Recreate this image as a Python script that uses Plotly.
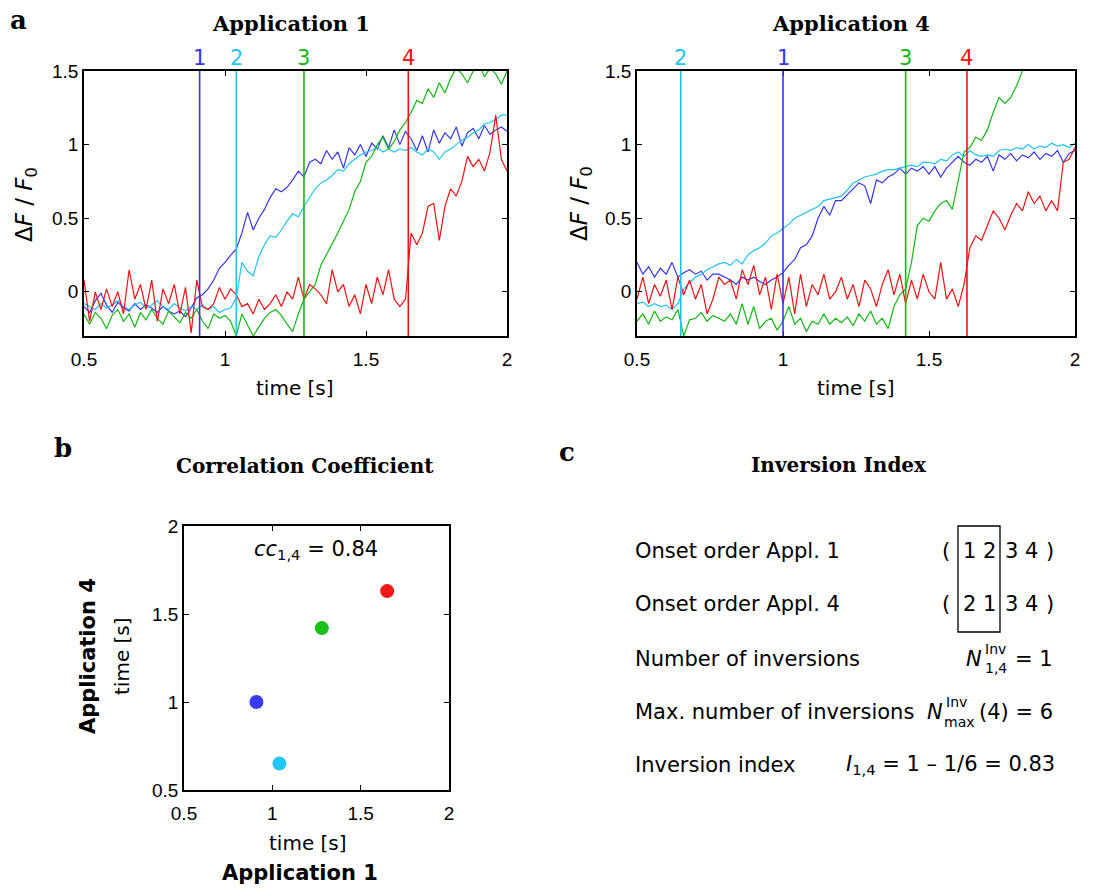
import numpy as np
import plotly.graph_objects as go

W, H = 1101, 889

# ---------------- data ----------------
time = np.round(0.5 + 0.02 * np.arange(76), 2)  # sampling grid 0.50 ... 2.00 s

neurons = ["1", "2", "3", "4"]
colors = ["#3535ee", "#1ec4f6", "#12b812", "#ee1212"]
dot_colors = ["#3a3af2", "#22c6f6", "#18c018", "#f01818"]

onset_app1 = [0.91, 1.04, 1.28, 1.65]
onset_app4 = [1.00, 0.65, 1.42, 1.63]

app1_n1 = [-0.10, -0.14, -0.06, -0.01, -0.09, -0.14, -0.07, -0.11, -0.13, -0.08,
           -0.12, -0.09, -0.11, -0.14, -0.10, -0.13, -0.15, -0.13, -0.17, -0.11,
           -0.04, -0.02, 0.02, 0.08, 0.16, 0.20, 0.25, 0.29, 0.40, 0.54,
           0.42, 0.50, 0.56, 0.64, 0.70, 0.68, 0.71, 0.76, 0.82, 0.78,
           0.88, 0.90, 0.87, 0.96, 0.90, 0.95, 0.84, 0.98, 0.93, 1.00,
           0.92, 1.01, 0.97, 1.06, 0.98, 1.10, 1.00, 1.09, 1.04, 0.96,
           1.06, 0.95, 1.10, 1.01, 1.08, 1.04, 1.12, 0.99, 1.08, 1.11,
           1.04, 1.13, 1.07, 1.10, 1.12, 1.09]
app1_n2 = [-0.08, -0.10, -0.12, -0.08, -0.11, -0.09, -0.06, -0.10, -0.12, -0.09,
           -0.07, -0.11, -0.09, -0.06, -0.10, -0.12, -0.08, -0.11, -0.13, -0.10,
           -0.12, -0.09, -0.12, -0.10, -0.14, -0.12, -0.11, -0.04, 0.20, 0.14,
           0.11, 0.24, 0.32, 0.38, 0.37, 0.42, 0.48, 0.53, 0.51, 0.58,
           0.64, 0.70, 0.74, 0.76, 0.79, 0.83, 0.82, 0.87, 0.90, 0.93,
           0.95, 0.96, 0.98, 0.95, 0.97, 0.95, 0.97, 0.96, 0.98, 0.95,
           0.93, 0.97, 0.95, 0.90, 0.95, 0.97, 1.00, 1.03, 1.05, 1.08,
           1.10, 1.14, 1.15, 1.17, 1.20, 1.20]
app1_n3 = [-0.15, -0.22, -0.14, -0.18, -0.25, -0.16, -0.12, -0.20, -0.15, -0.24,
           -0.14, -0.19, -0.12, -0.18, -0.22, -0.13, -0.17, -0.21, -0.14, -0.18,
           -0.12, -0.20, -0.25, -0.15, -0.18, -0.16, -0.20, -0.30, -0.15, -0.22,
           -0.30, -0.24, -0.18, -0.14, -0.12, -0.16, -0.22, -0.27, -0.15, -0.05,
           0.00, 0.05, 0.18, 0.25, 0.32, 0.40, 0.48, 0.56, 0.68, 0.75,
           0.88, 0.92, 1.00, 1.05, 0.97, 1.02, 1.10, 1.15, 1.22, 1.30,
           1.28, 1.38, 1.32, 1.42, 1.35, 1.45, 1.52, 1.48, 1.42, 1.50,
           1.55, 1.46, 1.52, 1.48, 1.41, 1.50]
app1_n4 = [0.08, -0.20, 0.00, -0.12, 0.02, -0.10, 0.00, -0.15, 0.15, -0.05,
           0.05, -0.12, 0.08, -0.20, 0.02, -0.08, 0.05, -0.15, 0.03, -0.28,
           0.08, -0.10, -0.12, -0.08, 0.03, -0.05, 0.02, -0.02, -0.10, -0.08,
           -0.15, -0.05, -0.12, -0.08, -0.02, -0.10, 0.00, -0.05, 0.10, -0.05,
           0.05, 0.02, -0.02, -0.08, 0.15, 0.00, 0.05, -0.10, -0.02, -0.15,
           0.05, -0.08, 0.10, -0.02, 0.15, -0.05, -0.10, -0.05, 0.40, 0.32,
           0.40, 0.58, 0.60, 0.35, 0.58, 0.70, 0.65, 0.75, 0.92, 0.85,
           0.90, 0.82, 0.95, 1.20, 0.90, 0.82]

app4_n1 = [0.20, 0.12, 0.17, 0.10, 0.16, 0.12, 0.20, 0.10, 0.13, 0.15,
           0.12, 0.14, 0.08, 0.12, 0.12, 0.10, 0.08, 0.05, 0.10, 0.08,
           0.10, 0.07, 0.05, 0.08, 0.10, 0.13, 0.18, 0.22, 0.30, 0.32,
           0.38, 0.50, 0.58, 0.52, 0.62, 0.62, 0.66, 0.70, 0.74, 0.72,
           0.60, 0.76, 0.74, 0.78, 0.80, 0.84, 0.80, 0.84, 0.82, 0.85,
           0.80, 0.85, 0.78, 0.84, 0.88, 0.92, 0.88, 0.86, 0.90, 0.88,
           0.92, 0.82, 0.93, 0.90, 0.94, 0.89, 0.93, 0.91, 0.95, 0.90,
           0.94, 0.92, 0.96, 0.88, 0.94, 0.96]
app4_n2 = [-0.08, -0.07, -0.10, -0.08, -0.10, -0.09, -0.12, -0.08, 0.02, 0.06,
           0.10, 0.12, 0.15, 0.17, 0.19, 0.20, 0.18, 0.22, 0.19, 0.25,
           0.28, 0.30, 0.33, 0.38, 0.40, 0.43, 0.46, 0.50, 0.52, 0.54,
           0.56, 0.58, 0.62, 0.63, 0.64, 0.65, 0.69, 0.74, 0.76, 0.78,
           0.79, 0.80, 0.82, 0.83, 0.83, 0.84, 0.85, 0.86, 0.85, 0.88,
           0.88, 0.87, 0.90, 0.89, 0.93, 0.95, 0.92, 0.96, 0.93, 0.92,
           0.93, 0.92, 0.96, 0.97, 0.96, 0.98, 0.97, 1.00, 0.97, 0.99,
           0.98, 1.01, 0.99, 1.00, 0.98, 1.01]
app4_n3 = [-0.20, -0.15, -0.22, -0.13, -0.20, -0.17, -0.19, -0.12, -0.30, -0.19,
           -0.18, -0.14, -0.20, -0.16, -0.18, -0.20, -0.15, -0.22, -0.08, -0.22,
           -0.10, -0.25, -0.20, -0.18, -0.26, -0.20, -0.10, -0.22, -0.18, -0.27,
           -0.20, -0.22, -0.15, -0.22, -0.18, -0.21, -0.17, -0.23, -0.15, -0.20,
           -0.13, -0.22, -0.18, -0.25, -0.10, -0.02, 0.02, 0.20, 0.45, 0.50,
           0.48, 0.55, 0.60, 0.62, 0.56, 0.75, 0.95, 0.98, 1.05, 1.03,
           1.10, 1.22, 1.32, 1.28, 1.32, 1.40, 1.50, 1.55, 1.62, 1.70,
           1.78, 1.85, 1.92, 1.98, 2.05, 2.10]
app4_n4 = [-0.05, 0.10, -0.08, 0.05, -0.03, 0.08, -0.12, 0.10, -0.02, 0.08,
           -0.05, 0.05, -0.15, -0.05, 0.10, 0.05, 0.08, -0.05, 0.15, 0.05,
           0.18, -0.02, 0.10, -0.12, 0.12, -0.08, 0.10, -0.15, 0.12, -0.10,
           0.05, -0.02, 0.12, -0.05, 0.00, 0.10, -0.05, 0.05, -0.10, 0.08,
           0.02, -0.10, 0.05, 0.15, -0.02, 0.12, -0.08, 0.08, -0.05, 0.12,
           0.00, -0.05, 0.20, -0.05, 0.02, -0.10, 0.05, 0.30, 0.38, 0.35,
           0.45, 0.55, 0.50, 0.42, 0.52, 0.60, 0.55, 0.68, 0.60, 0.65,
           0.55, 0.62, 0.55, 0.88, 0.90, 0.98]

app1_series = [app1_n1, app1_n2, app1_n3, app1_n4]
app4_series = [app4_n1, app4_n2, app4_n3, app4_n4]

time_ticks = [0.5, 1, 1.5, 2]
time_ticktext = ["0.5", "1", "1.5", "2"]
df_ticks = [0, 0.5, 1, 1.5]
df_ticktext = ["0", "0.5", "1", "1.5"]

# ---------------- helpers ----------------
def px(x):
    return x / W

def py(y):
    return 1 - y / H

SANS = "DejaVu Sans"
TICKF = dict(family="Liberation Sans", size=19, color="black")
SERIF = "DejaVu Serif"

fig = go.Figure()

# top panels
for series, xa, ya in [(app1_series, "x", "y"), (app4_series, "x2", "y2")]:
    for s, c in zip(series, colors):
        fig.add_trace(go.Scatter(x=time, y=s, mode="lines", xaxis=xa, yaxis=ya,
                                 line=dict(color=c, width=1.2), showlegend=False,
                                 hoverinfo="skip"))

# scatter panel
fig.add_trace(go.Scatter(x=onset_app1, y=onset_app4, mode="markers", xaxis="x3", yaxis="y3",
                         marker=dict(color=dot_colors, size=14, line=dict(width=0)),
                         showlegend=False))

axis_common = dict(showline=True, linecolor="black", linewidth=1.6, mirror="ticks",
                   ticks="inside", ticklen=5, tickwidth=1.3, tickcolor="black",
                   showgrid=False, zeroline=False, tickfont=TICKF, tickmode="array",
                   automargin=False)
xaxis_extra = dict(ticklabelstandoff=5)

dom_x1 = [px(84), px(507)]
dom_x2 = [px(637), px(1075)]
top_y = [py(336), py(71)]
fig.update_layout(
    width=W, height=H, margin=dict(l=0, r=0, t=0, b=0, autoexpand=False),
    plot_bgcolor="white", paper_bgcolor="white",
    xaxis=dict(domain=dom_x1, range=[0.5, 2], anchor="y",
               tickvals=time_ticks, ticktext=time_ticktext, **axis_common, **xaxis_extra),
    yaxis=dict(domain=top_y, range=[-0.3, 1.5], anchor="x",
               tickvals=df_ticks, ticktext=df_ticktext, **axis_common),
    xaxis2=dict(domain=dom_x2, range=[0.5, 2], anchor="y2",
                tickvals=time_ticks, ticktext=time_ticktext, **axis_common, **xaxis_extra),
    yaxis2=dict(domain=top_y, range=[-0.3, 1.5], anchor="x2",
                tickvals=df_ticks, ticktext=df_ticktext, **axis_common),
    xaxis3=dict(domain=[px(184), px(449)], range=[0.5, 2], anchor="y3",
                tickvals=time_ticks, ticktext=time_ticktext, **axis_common, **xaxis_extra),
    yaxis3=dict(domain=[py(790), py(526)], range=[0.5, 2], anchor="x3",
                tickvals=time_ticks, ticktext=time_ticktext, **axis_common),
)

shapes = []
annotations = []

# onset lines + labels (labels placed in paper coords derived from the axis mapping)
for onsets, xr, yr, dom in [(onset_app1, "x", "y domain", dom_x1), (onset_app4, "x2", "y2 domain", dom_x2)]:
    for t, c, n in zip(onsets, colors, neurons):
        shapes.append(dict(type="line", xref=xr, yref=yr,
                           x0=t, x1=t, y0=0, y1=1, line=dict(color=c, width=1.6)))
        xp = dom[0] + (t - 0.5) / 1.5 * (dom[1] - dom[0])
        annotations.append(dict(xref="paper", yref="paper", x=xp, y=top_y[1],
                                yanchor="bottom", xanchor="center", yshift=-1,
                                text=n, showarrow=False,
                                font=dict(family=SANS, size=21, color=c)))

def txt(x, y, text, size=19, family=SANS, xanchor="center", yanchor="middle", angle=0, color="black"):
    annotations.append(dict(xref="paper", yref="paper", x=px(x), y=py(y), text=text,
                            showarrow=False, xanchor=xanchor, yanchor=yanchor,
                            textangle=angle, font=dict(family=family, size=size, color=color)))

# panel letters & titles
txt(18, 20, "<b>a</b>", size=26, family=SERIF)
txt(63, 448, "<b>b</b>", size=26, family=SERIF)
txt(567, 452, "<b>c</b>", size=26, family=SERIF)
txt(291, 23, "<b>Application 1</b>", size=21, family=SERIF)
txt(851, 23, "<b>Application 4</b>", size=21, family=SERIF)
txt(305, 466, "<b>Correlation Coefficient</b>", size=20, family=SERIF)
txt(839, 465, "<b>Inversion Index</b>", size=20, family=SERIF)

# axis titles top
for cx in [295, 856]:
    txt(cx, 388, "time [s]", size=20)
for cx in [26, 581]:
    txt(cx, 204, "Δ<i>F</i> / <i>F</i><sub>0</sub>", size=23, angle=-90)

# scatter axis titles
txt(308, 843, "time [s]", size=20)
txt(300, 873, "<b>Application 1</b>", size=21)
txt(122, 656, "time [s]", size=20, angle=-90)
txt(88, 656, "<b>Application 4</b>", size=21, angle=-90)
annotations.append(dict(xref="x3", yref="y3", x=1.247, y=1.864,
                        text="<i>cc</i><sub>1,4</sub> = 0.84", showarrow=False,
                        font=dict(family=SANS, size=21, color="black")))

# panel c text
row_y = [551, 604, 659, 712, 765]
labels_c = ["Onset order Appl. 1", "Onset order Appl. 4", "Number of inversions",
            "Max. number of inversions", "Inversion index"]
for yy, lab in zip(row_y, labels_c):
    txt(633, yy, lab, size=21, xanchor="left")

order_app1 = ["1 2", "3 4"]
order_app4 = ["2 1", "3 4"]
for yy, ords in [(row_y[0], order_app1), (row_y[1], order_app4)]:
    txt(946, yy, "(", size=21)
    txt(979, yy, ords[0], size=21)
    txt(1021, yy, ords[1], size=21)
    txt(1050, yy, ")", size=21)
shapes.append(dict(type="rect", xref="paper", yref="paper", x0=px(958), x1=px(1000),
                   y0=py(632), y1=py(526), line=dict(color="black", width=1.3)))

# N^Inv_{1,4} = 1
txt(984, row_y[2], "<i>N</i>", size=21, xanchor="right")
txt(983, 649, "Inv", size=14, xanchor="left")
txt(983, 668, "1,4", size=14, xanchor="left")
txt(1055, row_y[2], "= 1", size=21, xanchor="right")
# N^Inv_max(4) = 6
txt(945, row_y[3], "<i>N</i>", size=21, xanchor="right")
txt(944, 702, "Inv", size=14, xanchor="left")
txt(942, 722, "max", size=14, xanchor="left")
txt(1055, row_y[3], "(4) = 6", size=21, xanchor="right")
# I_{1,4}
txt(1057, row_y[4], "<i>I</i><sub>1,4</sub> = 1 – 1/6 = 0.83", size=21, xanchor="right")

fig.update_layout(shapes=shapes, annotations=annotations)
fig.write_html("out.html")
